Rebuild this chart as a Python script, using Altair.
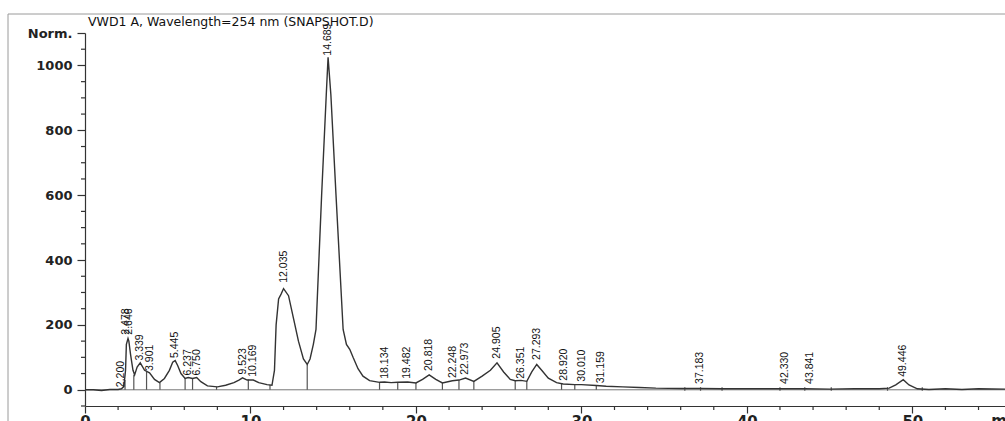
import altair as alt
import pandas as pd

# ---- chromatogram trace (time in min, signal in mAU) ----
trace_t = [0.0, 0.5, 1.0, 1.5, 2.0, 2.2, 2.35, 2.45, 2.5, 2.6, 2.65, 2.75, 2.9, 3.0,
           3.15, 3.34, 3.6, 3.9, 4.2, 4.5, 4.8, 5.1, 5.3, 5.45, 5.6, 5.8, 6.05, 6.24,
           6.5, 6.75, 7.0, 7.4, 8.0, 8.5, 9.0, 9.3, 9.52, 9.8, 10.17, 10.5, 11.0, 11.3,
           11.45, 11.55, 11.7, 11.85, 12.0, 12.3, 12.6, 12.9, 13.2, 13.43, 13.6, 13.8,
           13.96, 14.3, 14.58, 14.69, 14.86, 15.17, 15.6, 15.8, 16.0, 16.2, 16.5, 16.8,
           17.2, 17.8, 18.1, 18.5, 18.9, 19.5, 20.0, 20.4, 20.8, 21.2, 21.6, 22.2, 22.6,
           23.0, 23.5, 24.0, 24.5, 24.9, 25.3, 25.7, 26.0, 26.35, 26.7, 27.0, 27.3, 27.6,
           28.0, 28.5, 28.9, 29.6, 30.0, 30.9, 31.5, 32.5, 33.5, 34.5, 36.0, 37.2, 38.5,
           40.0, 42.0, 43.5, 45.0, 46.5, 48.0, 48.6, 49.0, 49.45, 49.8, 50.3, 51.0, 52.0,
           53.0, 54.0, 55.6]
trace_v = [0, 0, -2, 1, 1, 3, 10, 60, 140, 158, 150, 110, 60, 46,
           70, 83, 60, 52, 32, 22, 35, 60, 85, 90, 75, 50, 35, 38,
           35, 38, 25, 12, 9, 14, 22, 30, 37, 30, 30, 22, 16, 14,
           60, 200, 280, 295, 312, 290, 220, 150, 95, 78, 95, 140,
           186, 600, 909, 1025, 909, 600, 186, 140, 125, 100, 65, 42,
           28, 23, 24, 22, 23, 24, 21, 32, 46, 32, 21, 28, 30,
           36, 26, 42, 60, 83, 55, 32, 28, 29, 26, 55, 78, 60,
           36, 22, 18, 16, 16, 13, 11, 9, 7, 5, 4, 4, 3,
           3, 3, 3, 2, 3, 3, 5, 15, 31, 15, 3, 1, 3,
           1, 3, 2]

# ---- integration drop lines (time, top of line) ----
drop_t = [2.42, 2.95, 3.72, 4.53, 6.05, 6.5, 7.95, 9.87, 11.18, 13.43, 17.8, 18.9,
          20.0, 21.6, 22.6, 23.5, 26.0, 26.7, 28.8, 29.6, 30.9]
drop_v = [30, 46, 55, 22, 36, 35, 9, 32, 15, 78, 23, 23,
          21, 21, 30, 26, 28, 26, 18, 16, 13]

# ---- small baseline markers on the late part of the run ----
mark_t = [36.25, 37.2, 38.5, 42.0, 43.5, 45.1, 48.5, 50.6]

# ---- retention-time labels (time, label anchor value) ----
peak_t = [2.200, 2.478, 2.646, 3.339, 3.901, 5.445, 6.237, 6.750, 9.523, 10.169,
          12.035, 14.689, 18.134, 19.482, 20.818, 22.248, 22.973, 24.905, 26.351,
          27.293, 28.920, 30.010, 31.159, 37.183, 42.330, 43.841, 49.446]
peak_y = [8, 170, 170, 90, 58, 98, 44, 44, 47, 40,
          330, 1030, 34, 34, 58, 36, 46, 96, 34,
          92, 28, 25, 20, 18, 18, 18, 40]

# ---- axis ticks ----
x_major = [0, 10, 20, 30, 40, 50]
x_minor = [2, 4, 6, 8, 12, 14, 16, 18, 22, 24, 26, 28, 32, 34, 36, 38,
           42, 44, 46, 48, 52, 54]
y_major = [0, 200, 400, 600, 800, 1000, 1100]
y_minor = [-50, 50, 100, 150, 250, 300, 350, 450, 500, 550, 650, 700, 750,
           850, 900, 950, 1050]

title_text = "VWD1 A, Wavelength=254 nm (SNAPSHOT.D)"

W, H = 920, 373
X_DOM = [0, 55.6]
Y_DOM = [-50, 1100]

trace_df = pd.DataFrame({"t": trace_t, "v": trace_v})
drop_df = pd.DataFrame({"t": drop_t, "v": drop_v, "z": [0] * len(drop_t)})
mark_df = pd.DataFrame({"t": mark_t, "lo": [-3] * len(mark_t), "hi": [8] * len(mark_t)})
peak_df = pd.DataFrame({"t": peak_t, "y": peak_y,
                        "lab": [f"{p:.3f}" for p in peak_t]})
xminor_df = pd.DataFrame({"t": x_minor})
yminor_df = pd.DataFrame({"v": y_minor})
one = pd.DataFrame({"a": [0]})

xscale = alt.Scale(domain=X_DOM, nice=False, zero=False)
yscale = alt.Scale(domain=Y_DOM, nice=False, zero=False)

x_axis = alt.Axis(
    values=x_major, title=None, grid=False, tickSize=7,
    labelFontSize=15, labelFont="DejaVu Sans", labelFontWeight="bold",
    labelColor="#222", labelPadding=1, domainColor="#333", tickColor="#333",
    domainWidth=1.2, tickWidth=1.2, labelFlush=False, labelOverlap=False,
)
y_axis = alt.Axis(
    values=y_major, format="d",
    labelExpr="datum.value === 1100 ? 'Norm.' : datum.label",
    title=None, grid=False, tickSize=8,
    labelFontSize=13, labelFont="DejaVu Sans", labelFontWeight="bold",
    labelColor="#222", labelPadding=5, domainColor="#333", tickColor="#333",
    domainWidth=1.2, tickWidth=1.2, labelFlush=False, labelOverlap=False,
)

baseline = alt.Chart(one).mark_rule(color="#777", strokeWidth=1).encode(
    y=alt.datum(0, scale=yscale, axis=y_axis, type="quantitative"),
    x=alt.value(0), x2=alt.value(W),
)

trace = alt.Chart(trace_df).mark_line(color="#333", strokeWidth=1.4).encode(
    x=alt.X("t:Q", scale=xscale, axis=x_axis),
    y=alt.Y("v:Q", scale=yscale, axis=y_axis),
)

drops = alt.Chart(drop_df).mark_rule(color="#555", strokeWidth=1.2).encode(
    x=alt.X("t:Q", scale=xscale),
    y=alt.Y("v:Q", scale=yscale),
    y2="z:Q",
)

marks = alt.Chart(mark_df).mark_rule(color="#555", strokeWidth=1.2).encode(
    x=alt.X("t:Q", scale=xscale),
    y=alt.Y("hi:Q", scale=yscale),
    y2="lo:Q",
)

xminor = alt.Chart(xminor_df).mark_rule(color="#333", strokeWidth=1.2).encode(
    x=alt.X("t:Q", scale=xscale),
    y=alt.value(H), y2=alt.value(H + 4),
)
yminor = alt.Chart(yminor_df).mark_rule(color="#333", strokeWidth=1.2).encode(
    y=alt.Y("v:Q", scale=yscale),
    x=alt.value(-4), x2=alt.value(0),
)

labels = alt.Chart(peak_df).mark_text(
    angle=270, align="left", baseline="middle", fontSize=10.5,
    font="Liberation Sans", color="#111",
).encode(
    x=alt.X("t:Q", scale=xscale),
    y=alt.Y("y:Q", scale=yscale),
    text="lab:N",
)

frame_left = alt.Chart(one).mark_rule(color="#9a9a9a", strokeWidth=1).encode(
    x=alt.value(-77), y=alt.value(-19), y2=alt.value(H + 20),
)
frame_top = alt.Chart(one).mark_rule(color="#9a9a9a", strokeWidth=1).encode(
    x=alt.value(-77), x2=alt.value(W), y=alt.value(-19),
)

title = alt.Chart(one).mark_text(
    align="left", baseline="alphabetic", fontSize=12.5, font="DejaVu Sans",
    color="#111", text=title_text,
).encode(x=alt.value(3), y=alt.value(-7))

min_lab = alt.Chart(one).mark_text(
    align="center", baseline="top", fontSize=15, font="DejaVu Sans",
    fontWeight="bold", color="#222", text="min",
).encode(x=alt.value(922), y=alt.value(H + 8))

chart = alt.layer(
    frame_left, frame_top, title, baseline, xminor, yminor, drops, marks,
    trace, labels, min_lab
).properties(
    width=W, height=H,
    padding={"left": 85, "top": 33, "right": 0, "bottom": 15},
    autosize=alt.AutoSizeParams(type="none"),
    background="white",
).configure_view(stroke=None)

chart.save("out.html", embed_options={"renderer": "svg", "actions": False})
